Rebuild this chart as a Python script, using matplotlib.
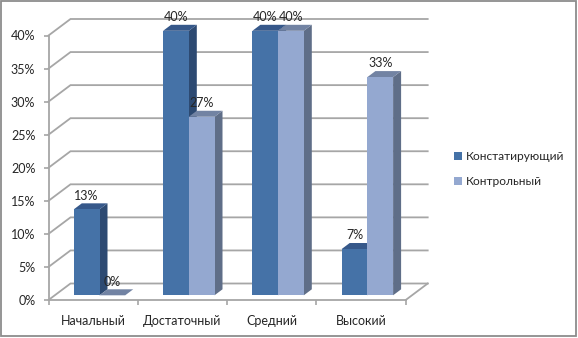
import matplotlib
matplotlib.use('Agg')
import matplotlib.pyplot as plt
from matplotlib.patches import Polygon, Rectangle

plt.rcParams['font.family'] = ['Lato', 'Open Sans', 'DejaVu Sans']

categories = ['Начальный', 'Достаточный', 'Средний', 'Высокий']
series_names = ['Констатирующий', 'Контрольный']
konst = [13, 40, 40, 7]
kontr = [0, 27, 40, 33]
y_ticks = [0, 5, 10, 15, 20, 25, 30, 35, 40]

W, H = 578, 338
fig = plt.figure(figsize=(W / 100, H / 100), dpi=100)
fig.patch.set_facecolor('white')

# front plane of the fake 3d box, in pixels
left, right, bottom, top = 48.5, 405.7, 300.0, 35.5
ax = fig.add_axes([left / W, 1 - bottom / H, (right - left) / W, (bottom - top) / H])
ax.set_xlim(0, 4)
ax.set_ylim(0, 40)
ax.patch.set_visible(False)

px = 4 / (right - left)
py = 40 / (bottom - top)
grid_c = '#a6a6a6'
text_c = '#262626'
back_x, back_y = 22 * px, 16.5 * py

# walls and floor
for v in y_ticks:
    ax.plot([0, back_x, 4 + back_x], [v, v + back_y, v + back_y], color=grid_c, lw=1.3,
            clip_on=False, zorder=1, solid_joinstyle='miter')
ax.plot([4, 4 + back_x], [0, back_y], color=grid_c, lw=1.3, clip_on=False, zorder=1)

for s in ['top', 'right']:
    ax.spines[s].set_visible(False)
for s in ['left', 'bottom']:
    ax.spines[s].set_color(grid_c)
    ax.spines[s].set_linewidth(1.3)
    ax.spines[s].set_zorder(2)

ax.set_yticks(y_ticks)
ax.set_yticklabels([f'{v}%' for v in y_ticks])
ax.set_xticks(range(5))
ax.set_xticklabels([])
ax.set_xticks([i + 0.5 for i in range(4)], categories, minor=True)
ax.tick_params(axis='y', length=3.5, color=grid_c, width=1.2, pad=6, labelsize=9, labelcolor=text_c)
ax.tick_params(axis='x', which='major', length=3.5, color=grid_c, width=1.2)
ax.tick_params(axis='x', which='minor', length=0, pad=10.5, labelsize=9, labelcolor=text_c)

# bars
bar_w = 25.7 * px
off_x, off_y = 6.35 * px, 4.7 * py
dep_x, dep_y = 8 * px, 6 * py
styles = [('#4572a7', '#36588a', '#2d4a72'), ('#94a8d0', '#7283a3', '#5f6e88')]

for k, (vals, name) in enumerate(zip([konst, kontr], series_names)):
    face, top_c, side_c = styles[k]
    for i, v in enumerate(vals):
        x0 = i + 0.5 + off_x - bar_w + k * bar_w
        x1 = x0 + bar_w
        y0 = off_y
        y1 = off_y + v
        z = 3 + k
        ax.add_patch(Polygon([(x1, y0), (x1 + dep_x, y0 + dep_y), (x1 + dep_x, y1 + dep_y), (x1, y1)],
                             fc=side_c, ec='none', clip_on=False, zorder=z))
        ax.add_patch(Polygon([(x0, y1), (x0 + dep_x, y1 + dep_y), (x1 + dep_x, y1 + dep_y), (x1, y1)],
                             fc=top_c, ec='none', clip_on=False, zorder=z))
        ax.add_patch(Rectangle((x0, y0), bar_w, v, fc=face, ec='none', clip_on=False, zorder=z,
                               label=name if i == 0 else None))
        ax.text((x0 + x1) / 2, y1 + 13.7 * py, f'{v}%', ha='center', va='center', fontsize=9,
                color=text_c, zorder=10, clip_on=False)

leg = fig.legend(loc='upper left', bbox_to_anchor=(454 / W, 1 - 151 / H), frameon=False,
                 fontsize=8.6, handlelength=0.66, handleheight=0.66, handletextpad=0.3,
                 labelspacing=1.15, borderpad=0, borderaxespad=0, labelcolor=text_c)

# chart border
fig.add_artist(Rectangle((0.75 / W, 1 - 336 / H), 575.5 / W, 335 / H, transform=fig.transFigure,
                         fc='none', ec='#8c8c8c', lw=1.3))

fig.savefig('out.png', dpi=100)
